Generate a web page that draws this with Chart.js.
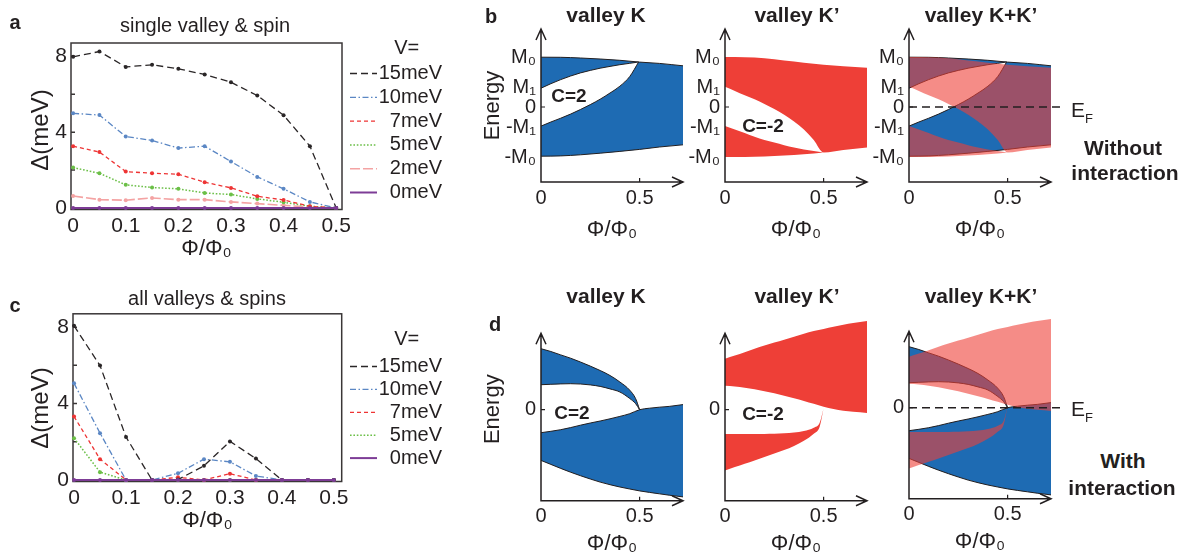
<!DOCTYPE html>
<html>
<head>
<meta charset="utf-8">
<title>Gap vs flux and band schematics</title>
<script src="https://cdn.jsdelivr.net/npm/chart.js@4.4.1/dist/chart.umd.min.js"></script>
<style>
  html, body { margin: 0; padding: 0; background: #fff; }
  body { position: relative; width: 1185px; height: 557px; overflow: hidden;
         font-family: "Liberation Sans", Arial, Helvetica, sans-serif; color: #231f20; }
  canvas { position: absolute; }
  .t { position: absolute; transform: translate(-50%, -50%); white-space: nowrap; line-height: 1; }
  .rot { transform: translate(-50%, -50%) rotate(-90deg); }
  .b { font-weight: bold; }
  .sub { font-size: 13px; position: relative; top: 6px; }
</style>
</head>
<body>
<canvas id="chartA" width="470" height="262" style="left:0px;top:0px"></canvas>
<canvas id="chartC" width="470" height="254" style="left:0px;top:280px"></canvas>
<canvas id="chartB1" width="212" height="245" style="left:478px;top:0px"></canvas>
<canvas id="chartB2" width="212" height="245" style="left:662px;top:0px"></canvas>
<canvas id="chartB3" width="230" height="245" style="left:846px;top:0px"></canvas>
<canvas id="chartD1" width="212" height="267" style="left:478px;top:290px"></canvas>
<canvas id="chartD2" width="212" height="267" style="left:662px;top:290px"></canvas>
<canvas id="chartD3" width="230" height="267" style="left:846px;top:287.6px"></canvas>

<div class="t b" style="left:15px;top:22px;font-size:20px">a</div>
<div class="t" style="left:205px;top:25px;font-size:20px">single valley &amp; spin</div>
<div class="t rot" style="left:40px;top:130px;font-size:24px">Δ(meV)</div>
<div class="t b" style="left:15px;top:305px;font-size:20px">c</div>
<div class="t" style="left:207px;top:298px;font-size:20px">all valleys &amp; spins</div>
<div class="t rot" style="left:40px;top:408px;font-size:24px">Δ(meV)</div>

<div class="t b" style="left:491px;top:16px;font-size:20px">b</div>
<div class="t b" style="left:606px;top:14px;font-size:21px">valley K</div>
<div class="t b" style="left:797px;top:14px;font-size:21px">valley K’</div>
<div class="t b" style="left:981px;top:14px;font-size:21px">valley K+K’</div>
<div class="t b" style="left:569px;top:95px;font-size:19px">C=2</div>
<div class="t b" style="left:763px;top:125px;font-size:19px">C=-2</div>
<div class="t" style="left:1082px;top:109px;font-size:21px">E<span class="sub">F</span></div>
<div class="t b" style="left:1123px;top:147px;font-size:21px">Without</div>
<div class="t b" style="left:1125px;top:172px;font-size:21px">interaction</div>

<div class="t b" style="left:495px;top:324px;font-size:20px">d</div>
<div class="t b" style="left:606px;top:295px;font-size:21px">valley K</div>
<div class="t b" style="left:797px;top:295px;font-size:21px">valley K’</div>
<div class="t b" style="left:981px;top:295px;font-size:21px">valley K+K’</div>
<div class="t b" style="left:572px;top:412px;font-size:19px">C=2</div>
<div class="t b" style="left:763px;top:413px;font-size:19px">C=-2</div>
<div class="t" style="left:1082px;top:408px;font-size:21px">E<span class="sub">F</span></div>
<div class="t b" style="left:1123px;top:460px;font-size:21px">With</div>
<div class="t b" style="left:1122px;top:487px;font-size:21px">interaction</div>

<script>
// ---- panels a / c : gap (meV) against flux ----
const phi = [0, 0.05, 0.1, 0.15, 0.2, 0.25, 0.3, 0.35, 0.4, 0.45, 0.5];
const phiTicks = [0, 0.1, 0.2, 0.3, 0.4, 0.5];
const gapTicks = [0, 4, 8];
const gapMinorTicks = [2, 4, 6, 8];

const singleV15 = [7.97, 8.25, 7.44, 7.55, 7.34, 7.04, 6.63, 5.93, 4.89, 3.26, 0];
const singleV10 = [4.99, 4.90, 3.77, 3.56, 3.16, 3.26, 2.45, 1.64, 1.01, 0.32, 0];
const singleV7 = [3.26, 2.95, 1.92, 1.83, 1.78, 1.36, 1.06, 0.62, 0.42, 0.09, 0];
const singleV5 = [2.13, 1.83, 1.22, 1.08, 1.01, 0.79, 0.71, 0.48, 0.30, 0.09, 0];
const singleV2 = [0.63, 0.44, 0.41, 0.53, 0.44, 0.44, 0.32, 0.23, 0.14, 0.05, 0];
const singleV0 = [0, 0, 0, 0, 0, 0, 0, 0, 0, 0, 0];

const allV15 = [8.07, 5.99, 2.25, 0, 0.02, 0.74, 2.02, 1.12, 0, 0, 0];
const allV10 = [5.06, 2.45, 0, 0, 0.35, 1.09, 0.95, 0.21, 0, 0, 0];
const allV7 = [3.32, 1.09, 0, 0, 0.14, 0, 0.33, 0, 0, 0, 0];
const allV5 = [2.19, 0.41, 0, 0, 0, 0, 0, 0, 0, 0, 0];
const allV0 = [0, 0, 0, 0, 0, 0, 0, 0, 0, 0, 0];

// ---- panel b : bands without interaction (energy in units with M0 = 5) ----
const bTickVals = [-5, -2, 0, 2, 5];
const bTickText = ['-M₀', '-M₁', '0', 'M₁', 'M₀'];
const phiBandB = [0, 0.1, 0.2, 0.3, 0.4, 0.5, 0.6, 0.72];
const kTopB = [4.98, 4.97, 4.9, 4.8, 4.67, 4.49, 4.36, 4.12];
const kBotB = [-4.92, -4.89, -4.78, -4.62, -4.44, -4.24, -4.0, -3.78];
const phiGapKB = [0, 0.05, 0.1, 0.15, 0.2, 0.25, 0.3, 0.35, 0.4, 0.45, 0.495];
const kGapTopB = [1.88, 2.33, 2.74, 3.1, 3.41, 3.66, 3.88, 4.06, 4.23, 4.37, 4.5];
const kGapBotB = [-1.91, -1.5, -1.12, -0.71, -0.25, 0.24, 0.78, 1.4, 2.08, 3.05, 4.5];
const kpTopB = [5.0, 4.98, 4.88, 4.65, 4.43, 4.23, 4.08, 3.92];
const kpBotB = [-5.0, -4.99, -4.95, -4.86, -4.72, -4.55, -4.3, -4.05];
const phiGapKpB = [0, 0.05, 0.1, 0.15, 0.2, 0.25, 0.3, 0.35, 0.4, 0.45, 0.5];
const kpGapTopB = [2.02, 1.6, 1.17, 0.78, 0.31, -0.2, -0.78, -1.45, -2.25, -3.3, -4.55];
const kpGapBotB = [-1.89, -2.25, -2.6, -2.98, -3.3, -3.55, -3.82, -4.06, -4.25, -4.4, -4.55];

// ---- panel d : bands with interaction ----
const dTickVals = [0];
const dTickText = ['0'];
const phiTip = [0, 0.05, 0.1, 0.15, 0.2, 0.25, 0.3, 0.35, 0.4, 0.45, 0.48, 0.5];
const phiBandD = [0, 0.05, 0.1, 0.15, 0.2, 0.25, 0.3, 0.35, 0.4, 0.45, 0.5, 0.55, 0.6, 0.65, 0.72];
const kUpTopD = [6.1, 5.82, 5.48, 5.15, 4.77, 4.36, 3.92, 3.42, 2.77, 1.95, 1.1, 0];
const kUpBotD = [2.5, 2.54, 2.58, 2.6, 2.57, 2.48, 2.33, 2.08, 1.77, 1.12, 0.6, 0];
const kLowTopD = [-2.3, -2.16, -2.0, -1.79, -1.55, -1.33, -1.13, -0.91, -0.67, -0.4, 0.0, 0.15, 0.25, 0.33, 0.51];
const kLowBotD = [-5.07, -5.47, -5.87, -6.25, -6.6, -6.93, -7.24, -7.5, -7.73, -7.93, -8.12, -8.27, -8.41, -8.55, -8.72];
const kpUpTopD = [5.1, 5.42, 5.75, 6.1, 6.43, 6.71, 7.0, 7.3, 7.6, 7.86, 8.08, 8.3, 8.5, 8.66, 8.86];
const kpUpBotD = [2.4, 2.32, 2.2, 2.04, 1.84, 1.64, 1.4, 1.15, 0.88, 0.6, 0.3, 0.07, -0.1, -0.2, -0.32];
const kpLowTopD = [-2.43, -2.43, -2.43, -2.43, -2.42, -2.4, -2.36, -2.28, -2.12, -1.8, -1.3, 0.15];
const kpLowBotD = [-6.07, -5.74, -5.4, -5.07, -4.73, -4.39, -4.03, -3.62, -3.1, -2.4, -1.7, 0.15];
const bandPhiTicks = [0, 0.5];

// ---- styles ----
const DARK = '#231f20';
const BLUE = '#1e6bb3';
const RED = '#ee3f37';
const RED_OVER = 'rgba(238, 63, 55, 0.6)';
const NONE = 'rgba(0,0,0,0)';

const seriesStyle = {
    '15meV': { color: '#2a2627', dash: [7, 4], width: 1.3 },
    '10meV': { color: '#5b87c4', dash: [6, 2.5, 1.5, 2.5], width: 1.3 },
    '7meV': { color: '#ee3434', dash: [4, 3], width: 1.3 },
    '5meV': { color: '#6bbf47', dash: [1.6, 1.8], width: 1.5 },
    '2meV': { color: '#f4a3a3', dash: [10, 3], width: 1.6 },
    '0meV': { color: '#7d3c96', dash: [], width: 2 }
};

Chart.defaults.font.family = '"Liberation Sans", Arial, Helvetica, sans-serif';
Chart.defaults.color = DARK;

function pts(xs, ys) {
    return xs.map((x, i) => ({ x: x, y: ys[i] }));
}

// frame + inward ticks + hand-placed legend for the gap plots
const gapFrame = {
    id: 'gapFrame',
    beforeDatasetsDraw(chart) {
        const { ctx, chartArea: a } = chart;
        const ys = chart.scales.y;
        ctx.save();
        ctx.strokeStyle = '#3a3637';
        ctx.lineWidth = 1.5;
        ctx.strokeRect(a.left, a.top, a.right - a.left, a.bottom - a.top);
        ctx.beginPath();
        gapMinorTicks.forEach(v => {
            const y = ys.getPixelForValue(v);
            ctx.moveTo(a.left, y);
            ctx.lineTo(a.left + 4, y);
        });
        ctx.stroke();
        ctx.restore();
    },
    afterDatasetsDraw(chart, args, opts) {
        const ctx = chart.ctx;
        ctx.save();
        ctx.font = '20px "Liberation Sans", Arial, sans-serif';
        ctx.fillStyle = DARK;
        ctx.textBaseline = 'middle';
        ctx.textAlign = 'center';
        ctx.fillText('V=', opts.titleX, opts.titleY);
        chart.data.datasets.forEach((ds, i) => {
            const y = opts.firstY + i * opts.step;
            ctx.strokeStyle = ds.borderColor;
            ctx.lineWidth = ds.borderWidth;
            ctx.setLineDash(ds.borderDash);
            ctx.beginPath();
            ctx.moveTo(opts.lineX0, y);
            ctx.lineTo(opts.lineX1, y);
            ctx.stroke();
            ctx.setLineDash([]);
            ctx.textAlign = 'right';
            ctx.fillText(ds.label, opts.textX, y);
        });
        ctx.restore();
    }
};

function gapChart(id, series, lay, legend) {
    const datasets = series.map(s => {
        const st = seriesStyle[s.label];
        return {
            label: s.label,
            data: pts(phi, s.values),
            borderColor: st.color,
            backgroundColor: st.color,
            borderWidth: st.width,
            borderDash: st.dash,
            pointRadius: 2,
            pointBorderWidth: 0,
            pointBackgroundColor: st.color,
            tension: 0,
            fill: false,
            clip: 4,
            order: s.label === '0meV' ? -1 : 0
        };
    });

    return new Chart(document.getElementById(id), {
        type: 'line',
        data: { datasets: datasets },
        options: {
            responsive: false,
            animation: false,
            events: [],
            layout: { autoPadding: false, padding: { left: 0, top: lay.top, right: lay.right, bottom: 0 } },
            plugins: {
                legend: { display: false },
                tooltip: { enabled: false },
                gapFrame: legend
            },
            scales: {
                x: {
                    type: 'linear',
                    min: lay.xMin,
                    max: lay.xMax,
                    afterFit: s => { s.height = 52.5; },
                    afterBuildTicks: s => { s.ticks = phiTicks.map(v => ({ value: v })); },
                    grid: { display: false, drawTicks: false },
                    border: { display: false },
                    ticks: {
                        autoSkip: false, maxRotation: 0, padding: 4,
                        font: { size: 21 },
                        callback: v => (v === 0 ? '0' : v.toFixed(1))
                    },
                    title: { display: true, text: 'Φ/Φ₀', font: { size: 22 }, padding: { top: 0, bottom: 0 } }
                },
                y: {
                    type: 'linear',
                    min: -0.08,
                    max: 8.7,
                    afterFit: s => { s.width = lay.yWidth; },
                    afterBuildTicks: s => { s.ticks = gapTicks.map(v => ({ value: v })); },
                    grid: { display: false, drawTicks: false },
                    border: { display: false },
                    ticks: { autoSkip: false, padding: 4, font: { size: 21 } }
                }
            }
        },
        plugins: [gapFrame]
    });
}

gapChart('chartA', [
    { label: '15meV', values: singleV15 },
    { label: '10meV', values: singleV10 },
    { label: '7meV', values: singleV7 },
    { label: '5meV', values: singleV5 },
    { label: '2meV', values: singleV2 },
    { label: '0meV', values: singleV0 }
], { top: 43, right: 128, yWidth: 71, xMin: -0.004, xMax: 0.511 },
   { titleX: 406.7, titleY: 48, firstY: 73.5, step: 23.8, lineX0: 350, lineX1: 377, textX: 442 });

gapChart('chartC', [
    { label: '15meV', values: allV15 },
    { label: '10meV', values: allV10 },
    { label: '7meV', values: allV7 },
    { label: '5meV', values: allV5 },
    { label: '0meV', values: allV0 }
], { top: 33.8, right: 128.3, yWidth: 73, xMin: -0.002, xMax: 0.515 },
   { titleX: 406.7, titleY: 59, firstY: 86.5, step: 22.9, lineX0: 350, lineX1: 377, textX: 442 });

// ---- band schematics ----
const bandAxes = {
    id: 'bandAxes',
    afterDatasetsDraw(chart, args, opts) {
        const { ctx } = chart;
        const xs = chart.scales.x, ys = chart.scales.y;
        const x0 = xs.getPixelForValue(0);
        const yb = ys.getPixelForValue(ys.min);
        const yTop = ys.getPixelForValue(opts.arrowTop);
        const xEnd = xs.getPixelForValue(opts.arrowRight);
        ctx.save();
        if (opts.efEnd) {
            const yz = ys.getPixelForValue(0);
            ctx.strokeStyle = DARK;
            ctx.lineWidth = 1.5;
            ctx.setLineDash([8, 5]);
            ctx.beginPath();
            ctx.moveTo(x0, yz);
            ctx.lineTo(xs.getPixelForValue(opts.efEnd), yz);
            ctx.stroke();
            ctx.setLineDash([]);
        }
        ctx.strokeStyle = DARK;
        ctx.lineWidth = 1.5;
        ctx.beginPath();
        ctx.moveTo(x0, yTop);
        ctx.lineTo(x0, yb);
        ctx.lineTo(xEnd, yb);
        ctx.moveTo(x0 - 5, yTop + 11);
        ctx.lineTo(x0, yTop);
        ctx.lineTo(x0 + 5, yTop + 11);
        ctx.moveTo(xEnd - 11, yb - 5);
        ctx.lineTo(xEnd, yb);
        ctx.lineTo(xEnd - 11, yb + 5);
        ctx.stroke();
        ctx.lineWidth = 1.2;
        ctx.beginPath();
        const yz0 = ys.getPixelForValue(0);
        ctx.moveTo(x0, yz0);
        ctx.lineTo(x0 + 4, yz0);
        const x5 = xs.getPixelForValue(0.5);
        ctx.moveTo(x5, yb);
        ctx.lineTo(x5, yb - 4);
        ctx.stroke();
        ctx.restore();
    }
};

function curve(xs, ys, extra) {
    return Object.assign({
        data: pts(xs, ys),
        borderColor: NONE,
        borderWidth: 1,
        pointRadius: 0,
        cubicInterpolationMode: 'monotone',
        fill: false
    }, extra);
}

function kBandsB(base, outline) {
    return [
        curve(phiBandB, kTopB, { fill: { target: base + 1 }, backgroundColor: BLUE, borderColor: outline, order: 20 }),
        curve(phiBandB, kBotB, { borderColor: outline, order: 19 }),
        curve(phiGapKB, kGapTopB, { fill: { target: base + 3 }, backgroundColor: '#ffffff', borderColor: outline, order: 18 }),
        curve(phiGapKB, kGapBotB, { borderColor: outline, order: 17 })
    ];
}

// K' drawn as two non-overlapping pieces so a translucent colour does not double up
function kpBandsB(base, color) {
    const meet = phiGapKpB[phiGapKpB.length - 1];
    const cut = phiBandB.findIndex(x => x > meet);
    const innerX = phiGapKpB.concat(phiBandB.slice(cut));
    const innerY = kpGapTopB.concat(kpBotB.slice(cut));
    return [
        curve(phiBandB, kpTopB, { fill: { target: base + 1 }, backgroundColor: color, order: 8 }),
        curve(innerX, innerY, { order: 7 }),
        curve(phiGapKpB, kpGapBotB, { fill: { target: base + 3 }, backgroundColor: color, order: 6 }),
        curve(phiBandB, kpBotB, { order: 5 })
    ];
}

function kBandsD(base, outline) {
    return [
        curve(phiTip, kUpTopD, { fill: { target: base + 1 }, backgroundColor: BLUE, borderColor: outline, order: 20 }),
        curve(phiTip, kUpBotD, { borderColor: outline, order: 19 }),
        curve(phiBandD, kLowTopD, { fill: { target: base + 3 }, backgroundColor: BLUE, borderColor: outline, order: 18 }),
        curve(phiBandD, kLowBotD, { borderColor: outline, order: 17 })
    ];
}

function kpBandsD(base, color) {
    return [
        curve(phiBandD, kpUpTopD, { fill: { target: base + 1 }, backgroundColor: color, order: 8 }),
        curve(phiBandD, kpUpBotD, { order: 7 }),
        curve(phiTip, kpLowTopD, { fill: { target: base + 3 }, backgroundColor: color, order: 6 }),
        curve(phiTip, kpLowBotD, { order: 5 })
    ];
}

function bandChart(id, datasets, o) {
    return new Chart(document.getElementById(id), {
        type: 'line',
        data: { datasets: datasets },
        options: {
            responsive: false,
            animation: false,
            events: [],
            layout: { autoPadding: false, padding: { left: 0, top: o.padTop, right: o.padRight, bottom: 0 } },
            plugins: {
                legend: { display: false },
                tooltip: { enabled: false },
                bandAxes: { arrowTop: o.arrowTop, arrowRight: 0.72, efEnd: o.efEnd }
            },
            scales: {
                x: {
                    type: 'linear', min: 0, max: 0.72,
                    afterFit: s => { s.height = o.xHeight; },
                    afterBuildTicks: s => { s.ticks = bandPhiTicks.map(v => ({ value: v })); },
                    grid: { display: false, drawTicks: false },
                    border: { display: false },
                    ticks: { autoSkip: false, maxRotation: 0, padding: 4, font: { size: 20 },
                             callback: v => (v === 0 ? '0' : String(v)) },
                    title: { display: true, text: 'Φ/Φ₀', font: { size: 22 }, padding: { top: 0, bottom: o.xTitlePad } }
                },
                y: {
                    type: 'linear', min: o.yMin, max: o.yMax,
                    afterFit: s => { s.width = 63; },
                    afterBuildTicks: s => { s.ticks = o.tickVals.map(v => ({ value: v })); },
                    grid: { display: false, drawTicks: false },
                    border: { display: false },
                    ticks: { autoSkip: false, padding: 5, font: { size: 20 },
                             callback: v => o.tickText[o.tickVals.indexOf(v)] },
                    title: { display: !!o.energy, text: 'Energy', font: { size: 22 }, padding: { top: 1.8, bottom: 0 } }
                }
            }
        },
        plugins: [bandAxes]
    });
}

const bLayout = { padTop: 29, xHeight: 63, xTitlePad: 2.3, yMin: -7.5, yMax: 7.8, arrowTop: 7.8,
                  tickVals: bTickVals, tickText: bTickText };
const dLayout = { padTop: 27.7, xHeight: 56.3, xTitlePad: 0, yMin: -9.1, yMax: 9.2, arrowTop: 7.65,
                  tickVals: dTickVals, tickText: dTickText };

bandChart('chartB1', kBandsB(0, DARK), Object.assign({}, bLayout, { padRight: 7, energy: true }));
bandChart('chartB2', kpBandsB(0, RED), Object.assign({}, bLayout, { padRight: 7 }));
bandChart('chartB3', kBandsB(0, DARK).concat(kpBandsB(4, RED_OVER)),
          Object.assign({}, bLayout, { padRight: 25, efEnd: 0.79 }));

bandChart('chartD1', kBandsD(0, DARK), Object.assign({}, dLayout, { padRight: 7, energy: true }));
bandChart('chartD2', kpBandsD(0, RED), Object.assign({}, dLayout, { padRight: 7 }));
bandChart('chartD3', kBandsD(0, DARK).concat(kpBandsD(4, RED_OVER)),
          Object.assign({}, dLayout, { padRight: 25, efEnd: 0.79 }));
</script>
</body>
</html>
